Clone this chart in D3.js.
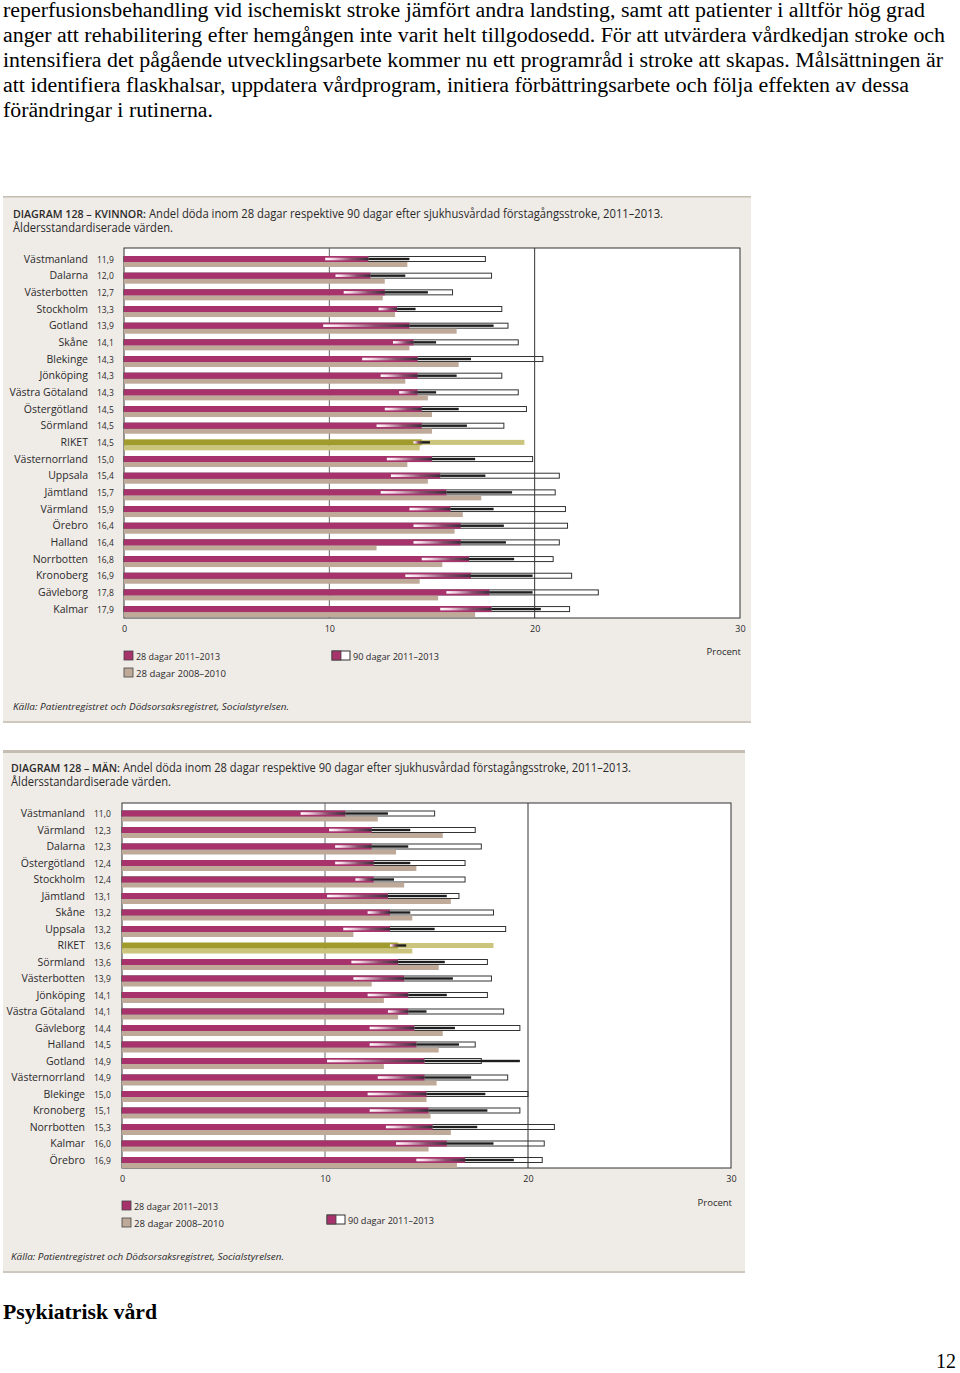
<!DOCTYPE html>
<html>
<head>
<meta charset="utf-8">
<script src="https://cdn.jsdelivr.net/npm/d3@7"></script>
<style>
  body { margin: 0; background: #fff; }
  svg { display: block; }
</style>
</head>
<body>
<script>
// ---- data: kvinnor ----
const kvRegions = ["Västmanland", "Dalarna", "Västerbotten", "Stockholm", "Gotland", "Skåne", "Blekinge", "Jönköping", "Västra Götaland", "Östergötland", "Sörmland", "RIKET", "Västernorrland", "Uppsala", "Jämtland", "Värmland", "Örebro", "Halland", "Norrbotten", "Kronoberg", "Gävleborg", "Kalmar"];
const kv28 = [11.9, 12.0, 12.7, 13.3, 13.9, 14.1, 14.3, 14.3, 14.3, 14.5, 14.5, 14.5, 15.0, 15.4, 15.7, 15.9, 16.4, 16.4, 16.8, 16.9, 17.8, 17.9];
const kvLow = [9.8, 10.3, 10.7, 12.4, 9.7, 13.1, 11.6, 12.5, 13.4, 12.7, 12.3, 14.1, 12.8, 13.0, 12.5, 13.9, 14.1, 14.1, 14.5, 13.7, 15.7, 15.4];
const kvHigh = [13.9, 13.7, 14.8, 14.2, 18.0, 15.2, 16.9, 16.2, 15.2, 16.3, 16.7, 14.9, 17.1, 17.6, 18.9, 18.0, 18.5, 18.6, 19.0, 19.9, 19.9, 20.3];
const kv90 = [17.6, 17.9, 16.0, 18.4, 18.7, 19.2, 20.4, 18.4, 19.2, 19.6, 18.5, 19.5, 19.9, 21.2, 21.0, 21.5, 21.6, 21.2, 20.9, 21.8, 23.1, 21.7];
const kvPrev = [13.8, 12.7, 12.6, 13.2, 16.2, 13.9, 16.3, 13.7, 14.8, 15.0, 15.0, 14.4, 13.8, 14.8, 17.4, 16.5, 16.1, 12.3, 15.5, 14.4, 15.3, 17.1];

// ---- data: män ----
const manRegions = ["Västmanland", "Värmland", "Dalarna", "Östergötland", "Stockholm", "Jämtland", "Skåne", "Uppsala", "RIKET", "Sörmland", "Västerbotten", "Jönköping", "Västra Götaland", "Gävleborg", "Halland", "Gotland", "Västernorrland", "Blekinge", "Kronoberg", "Norrbotten", "Kalmar", "Örebro"];
const man28 = [11.0, 12.3, 12.3, 12.4, 12.4, 13.1, 13.2, 13.2, 13.6, 13.6, 13.9, 14.1, 14.1, 14.4, 14.5, 14.9, 14.9, 15.0, 15.1, 15.3, 16.0, 16.9];
const manLow = [8.8, 10.2, 10.5, 10.5, 11.5, 10.1, 12.1, 10.9, 13.2, 11.3, 11.4, 12.1, 13.1, 12.2, 12.2, 10.1, 12.6, 12.1, 12.2, 13.0, 13.5, 14.5];
const manHigh = [13.1, 14.2, 14.1, 14.2, 13.4, 16.0, 14.2, 15.4, 14.0, 15.9, 16.3, 16.0, 15.0, 16.4, 16.6, 19.6, 17.2, 17.9, 18.0, 17.5, 18.3, 19.3];
const man90 = [15.4, 17.4, 17.7, 16.9, 16.9, 16.6, 18.3, 18.9, 18.3, 18.0, 18.2, 18.0, 18.8, 19.6, 17.4, 17.7, 19.0, 20.0, 19.6, 21.3, 20.8, 20.7];
const manPrev = [12.6, 15.8, 13.5, 14.5, 13.9, 16.2, 14.3, 11.4, 14.3, 15.6, 12.3, 12.9, 13.6, 15.8, 15.6, 12.9, 15.5, 15.0, 15.2, 16.2, 15.1, 16.5];

const tickValues = [0, 10, 20, 30];
const legendLabels = ["28 dagar 2011–2013", "28 dagar 2008–2010", "90 dagar 2011–2013"];

const bodyLines = [
  "reperfusionsbehandling vid ischemiskt stroke jämfört andra landsting, samt att patienter i alltför hög grad",
  "anger att rehabilitering efter hemgången inte varit helt tillgodosedd. För att utvärdera vårdkedjan stroke och",
  "intensifiera det pågående utvecklingsarbete kommer nu ett programråd i stroke att skapas. Målsättningen är",
  "att identifiera flaskhalsar, uppdatera vårdprogram, initiera förbättringsarbete och följa effekten av dessa",
  "förändringar i rutinerna."
];
const bodyWidths = [922, 942, 940, 906, 210];

const magenta = "#a8326c", tan = "#bfaa9a", olive = "#a09b2c", oliveLight = "#cbc47c";
const fmt = d3.formatLocale({ decimal: ",", thousands: " ", grouping: [3], currency: ["", " kr"] }).format(".1f");
const font = "'Open Sans', sans-serif";

const svg = d3.select("body").append("svg")
  .attr("width", 960)
  .attr("height", 1373);

const defs = svg.append("defs");
const grad = defs.append("linearGradient").attr("id", "ci");
grad.append("stop").attr("offset", "0").attr("stop-color", "#ffffff");
grad.append("stop").attr("offset", "0.18").attr("stop-color", "#f2d6e4");
grad.append("stop").attr("offset", "0.6").attr("stop-color", "#8c4f6e");
grad.append("stop").attr("offset", "1").attr("stop-color", "#35303a");

// body text
svg.append("g").selectAll("text")
  .data(bodyLines)
  .enter()
  .append("text")
  .attr("x", 3)
  .attr("y", (d, i) => 17 + i * 25)
  .attr("textLength", (d, i) => bodyWidths[i])
  .attr("lengthAdjust", "spacingAndGlyphs")
  .style("font-family", "'Liberation Serif', serif")
  .style("font-size", "20px")
  .style("fill", "#000")
  .text(d => d);

function drawPanel(o) {
  const n = o.regions.length;
  const rows = o.regions.map(function (r, i) {
    return { region: r, v28: o.v28[i], low: o.low[i], high: o.high[i], v90: o.v90[i], prev: o.prev[i], riket: r === "RIKET" };
  });

  const g = svg.append("g");

  // panel background
  g.append("rect")
    .attr("x", o.px).attr("y", o.py)
    .attr("width", o.pw).attr("height", o.ph)
    .attr("fill", "#efebe7");
  g.append("rect")
    .attr("x", o.px).attr("y", o.py)
    .attr("width", o.pw).attr("height", o.topLine)
    .attr("fill", "#c5bdb2");
  g.append("rect")
    .attr("x", o.px).attr("y", o.py + o.ph - 2)
    .attr("width", o.pw).attr("height", 2)
    .attr("fill", "#cfc8be");

  // title
  g.append("text")
    .attr("x", o.titleX).attr("y", o.titleY)
    .attr("textLength", o.prefixW).attr("lengthAdjust", "spacingAndGlyphs")
    .style("font-family", font).style("font-size", "10px").style("font-weight", 600)
    .style("fill", "#2a2a2a")
    .text(o.prefix);
  g.append("text")
    .attr("x", o.titleX + o.prefixW + 3).attr("y", o.titleY)
    .attr("textLength", o.restW).attr("lengthAdjust", "spacingAndGlyphs")
    .style("font-family", font).style("font-size", "12px")
    .style("fill", "#2a2a2a")
    .text("Andel döda inom 28 dagar respektive 90 dagar efter sjukhusvårdad förstagångsstroke, 2011–2013.");
  g.append("text")
    .attr("x", o.titleX).attr("y", o.titleY + 14)
    .attr("textLength", 160).attr("lengthAdjust", "spacingAndGlyphs")
    .style("font-family", font).style("font-size", "12px")
    .style("fill", "#2a2a2a")
    .text("Åldersstandardiserade värden.");

  const x = d3.scaleLinear().domain([0, 30]).range([o.left, o.right]);
  const y = d3.scaleBand().domain(o.regions)
    .range([o.rowTop, o.rowTop + o.step * n])
    .paddingInner(0).paddingOuter(0);

  // plot area
  g.append("rect")
    .attr("x", o.left).attr("y", o.top)
    .attr("width", o.right - o.left).attr("height", o.bottom - o.top)
    .attr("fill", "#fff").attr("stroke", "#333").attr("stroke-width", 1);

  // 90 dagar boxes
  g.append("g").selectAll("rect")
    .data(rows)
    .enter()
    .append("rect")
    .attr("x", x(0))
    .attr("y", d => y(d.region) + 0.5)
    .attr("width", d => x(d.v90) - x(0))
    .attr("height", 5)
    .attr("fill", d => d.riket ? oliveLight : "#fff")
    .attr("stroke", d => d.riket ? "none" : "#333")
    .attr("stroke-width", 1);

  // grid lines
  g.append("g").selectAll("line")
    .data([10, 20])
    .enter()
    .append("line")
    .attr("x1", d => x(d)).attr("x2", d => x(d))
    .attr("y1", o.top).attr("y2", o.bottom)
    .attr("stroke", d => d === 10 ? "#666" : "#333")
    .attr("stroke-width", 1);

  // 28 dagar 2008-2010
  g.append("g").selectAll("rect")
    .data(rows)
    .enter()
    .append("rect")
    .attr("x", x(0))
    .attr("y", d => y(d.region) + 6)
    .attr("width", d => x(d.prev) - x(0))
    .attr("height", 5)
    .attr("fill", d => d.riket ? oliveLight : tan);

  // 28 dagar 2011-2013
  g.append("g").selectAll("rect")
    .data(rows)
    .enter()
    .append("rect")
    .attr("x", x(0))
    .attr("y", d => y(d.region))
    .attr("width", d => x(d.v28) - x(0))
    .attr("height", 6)
    .attr("fill", d => d.riket ? olive : magenta);

  // confidence interval, lower part
  g.append("g").selectAll("rect")
    .data(rows)
    .enter()
    .append("rect")
    .attr("x", d => x(d.low))
    .attr("y", d => y(d.region) + 1.7)
    .attr("width", d => x(d.v28) - x(d.low))
    .attr("height", 2.6)
    .attr("fill", "url(#ci)");

  // confidence interval, upper part
  g.append("g").selectAll("rect")
    .data(rows)
    .enter()
    .append("rect")
    .attr("x", d => x(d.v28))
    .attr("y", d => y(d.region) + 1.8)
    .attr("width", d => x(d.high) - x(d.v28))
    .attr("height", 2.4)
    .attr("fill", "#1e1e1e");

  // row labels
  g.append("g").selectAll("text")
    .data(rows)
    .enter()
    .append("text")
    .attr("x", o.labelX)
    .attr("y", d => y(d.region) + 6.5)
    .attr("text-anchor", "end")
    .style("font-family", font).style("font-size", "10.5px")
    .style("fill", "#2a2a2a")
    .text(d => d.region);

  g.append("g").selectAll("text")
    .data(rows)
    .enter()
    .append("text")
    .attr("x", o.labelX + 9)
    .attr("y", d => y(d.region) + 6.5)
    .style("font-family", font).style("font-size", "8.5px")
    .style("fill", "#2a2a2a")
    .text(d => fmt(d.v28));

  // x axis
  const axis = g.append("g")
    .attr("transform", "translate(0," + o.bottom + ")")
    .call(d3.axisBottom(x).tickValues(tickValues).tickSize(0).tickPadding(8));
  axis.select(".domain").remove();
  axis.selectAll("text")
    .style("font-family", font).style("font-size", "9px").style("fill", "#2a2a2a");

  g.append("text")
    .attr("x", o.right + 1).attr("y", o.procentY)
    .attr("text-anchor", "end")
    .style("font-family", font).style("font-size", "9.5px").style("fill", "#2a2a2a")
    .text("Procent");

  // legend
  const leg = g.append("g");
  leg.append("rect")
    .attr("x", o.left).attr("y", o.leg1Y - 5).attr("width", 9).attr("height", 9)
    .attr("fill", magenta).attr("stroke", "#444").attr("stroke-width", 0.8);
  leg.append("rect")
    .attr("x", o.left).attr("y", o.leg2Y - 5).attr("width", 9).attr("height", 9)
    .attr("fill", tan).attr("stroke", "#444").attr("stroke-width", 0.8);
  leg.append("rect")
    .attr("x", o.leg3X).attr("y", o.leg3Y - 5).attr("width", 18).attr("height", 9)
    .attr("fill", "#fff").attr("stroke", "#333").attr("stroke-width", 1);
  leg.append("rect")
    .attr("x", o.leg3X).attr("y", o.leg3Y - 5).attr("width", 9).attr("height", 9)
    .attr("fill", magenta).attr("stroke", "#444").attr("stroke-width", 0.8);

  const legPos = [
    [o.left + 12, o.leg1Y, 84],
    [o.left + 12, o.leg2Y, 90],
    [o.leg3X + 21, o.leg3Y, 86]
  ];
  leg.selectAll("text.lab")
    .data(legendLabels)
    .enter()
    .append("text")
    .attr("class", "lab")
    .attr("x", (d, i) => legPos[i][0])
    .attr("y", (d, i) => legPos[i][1] + 3.5)
    .attr("textLength", (d, i) => legPos[i][2])
    .attr("lengthAdjust", "spacingAndGlyphs")
    .style("font-family", font).style("font-size", "9.5px").style("fill", "#2a2a2a")
    .text(d => d);

  // source
  g.append("text")
    .attr("x", o.titleX).attr("y", o.sourceY)
    .attr("textLength", o.sourceW).attr("lengthAdjust", "spacingAndGlyphs")
    .style("font-family", font).style("font-size", "9.5px").style("font-style", "italic")
    .style("fill", "#2a2a2a")
    .text("Källa: Patientregistret och Dödsorsaksregistret, Socialstyrelsen.");
}

drawPanel({
  regions: kvRegions, v28: kv28, low: kvLow, high: kvHigh, v90: kv90, prev: kvPrev,
  px: 3, py: 196, pw: 748, ph: 527, topLine: 1.5,
  titleX: 13, titleY: 218, prefix: "DIAGRAM 128 – KVINNOR:", prefixW: 133, restW: 514,
  left: 124, right: 740, top: 248, bottom: 618, rowTop: 256, step: 16.67, labelX: 88,
  procentY: 655, leg1Y: 656, leg2Y: 673, leg3X: 332, leg3Y: 656,
  sourceY: 710, sourceW: 276
});

drawPanel({
  regions: manRegions, v28: man28, low: manLow, high: manHigh, v90: man90, prev: manPrev,
  px: 3, py: 750, pw: 742, ph: 523, topLine: 3,
  titleX: 11, titleY: 772, prefix: "DIAGRAM 128 – MÄN:", prefixW: 109, restW: 508,
  left: 122, right: 731, top: 803, bottom: 1168, rowTop: 810.5, step: 16.5, labelX: 85,
  procentY: 1206, leg1Y: 1206, leg2Y: 1223, leg3X: 327, leg3Y: 1220,
  sourceY: 1260, sourceW: 273
});

// heading and page number
svg.append("text")
  .attr("x", 3).attr("y", 1319)
  .attr("textLength", 154).attr("lengthAdjust", "spacingAndGlyphs")
  .style("font-family", "'Liberation Serif', serif")
  .style("font-size", "21px").style("font-weight", "bold")
  .text("Psykiatrisk vård");

svg.append("text")
  .attr("x", 956).attr("y", 1368)
  .attr("text-anchor", "end")
  .style("font-family", "'Liberation Serif', serif")
  .style("font-size", "20px")
  .text("12");
</script>
</body>
</html>
